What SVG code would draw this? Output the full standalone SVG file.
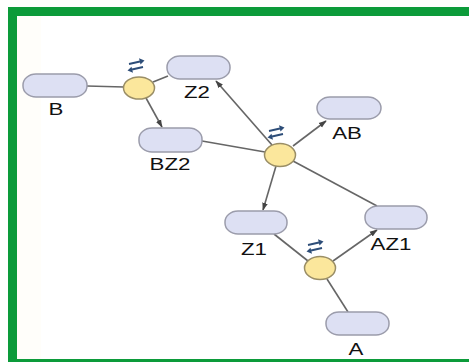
<svg xmlns="http://www.w3.org/2000/svg" width="469" height="362" viewBox="0 0 469 362">
  <style>
    .sp { fill: #dde0f3; stroke: #9b9cab; stroke-width: 1.5; }
    .rx { fill: #fbe79c; stroke: #9a8e66; stroke-width: 1.5; }
    .ln { stroke: #666666; stroke-width: 1.6; fill: none; }
    .arr { marker-end: url(#head); }
    .lbl { font-family: "Liberation Sans", Arial, sans-serif; font-size: 16.5px; fill: #111; text-anchor: middle; }
    .frame { fill: #0c9b3a; }
  </style>
  <defs>
    <marker id="head" viewBox="0 0 10 10" refX="9" refY="5" markerWidth="8" markerHeight="8" markerUnits="userSpaceOnUse" orient="auto">
      <path d="M0,1.5 L10,5 L0,8.5 Z" fill="#444444"/>
    </marker>
    <!-- reversible-reaction glyph: two opposed arrows -->
    <g id="swap" fill="#2d4d78" stroke="#2d4d78">
      <path d="M1,7 L12,4.5" stroke-width="1.9" fill="none"/>
      <path d="M16.5,3.5 L11,1.2 L12.5,7.5 Z" stroke="none"/>
      <path d="M15,10 L4,12.5" stroke-width="1.9" fill="none"/>
      <path d="M-0.5,13.5 L5,15.8 L3.5,9.8 Z" stroke="none"/>
    </g>
  </defs>

  <rect width="469" height="362" fill="#ffffff"/>
  <rect x="17" y="16" width="24" height="343" fill="#fffefa"/>

  <!-- frame -->
  <rect class="frame" x="8" y="7" width="461" height="9"/>
  <rect class="frame" x="8" y="7" width="9" height="355"/>
  <rect class="frame" x="8" y="359" width="461" height="3"/>

  <g id="connectors">
    <path class="ln" d="M87,86 L124,87"/>
    <path class="ln" d="M153,82 L168,76"/>
    <path class="ln arr" d="M146,98 L162,127"/>
    <path class="ln" d="M202,141 L265,152"/>
    <path class="ln arr" d="M272,145 L216,81"/>
    <path class="ln arr" d="M293,146 L326,121"/>
    <path class="ln arr" d="M276,166 L263,210"/>
    <path class="ln" d="M293,161 L377,206"/>
    <path class="ln" d="M274,234 L308,261"/>
    <path class="ln arr" d="M333,261 L377,230"/>
    <path class="ln" d="M327,279 L348,312"/>
  </g>

  <g id="B">
    <rect class="sp" x="23" y="74" width="64" height="23" rx="13" ry="11"/>
    <text class="lbl" transform="translate(56,115) scale(1.35,1)">B</text>
  </g>
  <g id="Z2">
    <rect class="sp" x="167" y="56" width="63" height="23" rx="13" ry="11"/>
    <text class="lbl" transform="translate(197,98) scale(1.35,1)">Z2</text>
  </g>
  <g id="BZ2">
    <rect class="sp" x="139" y="128" width="63" height="24" rx="13" ry="11"/>
    <text class="lbl" transform="translate(170,170) scale(1.35,1)">BZ2</text>
  </g>
  <g id="AB">
    <rect class="sp" x="317" y="97" width="64" height="22" rx="13" ry="11"/>
    <text class="lbl" transform="translate(347,139) scale(1.35,1)">AB</text>
  </g>
  <g id="Z1">
    <rect class="sp" x="225" y="211" width="62" height="23" rx="13" ry="11"/>
    <text class="lbl" transform="translate(254,255) scale(1.35,1)">Z1</text>
  </g>
  <g id="AZ1">
    <rect class="sp" x="365" y="206" width="62" height="23" rx="13" ry="11"/>
    <text class="lbl" transform="translate(391,250) scale(1.35,1)">AZ1</text>
  </g>
  <g id="A">
    <rect class="sp" x="326" y="312" width="63" height="23" rx="13" ry="11"/>
    <text class="lbl" transform="translate(356,355) scale(1.35,1)">A</text>
  </g>

  <g id="R1">
    <ellipse class="rx" cx="139" cy="88" rx="15.5" ry="11"/>
    <use href="#swap" transform="translate(128,57)"/>
  </g>
  <g id="R2">
    <ellipse class="rx" cx="280" cy="155" rx="15.5" ry="11.5"/>
    <use href="#swap" transform="translate(268,124)"/>
  </g>
  <g id="R3">
    <ellipse class="rx" cx="320" cy="268" rx="15.5" ry="11.5"/>
    <use href="#swap" transform="translate(307,238)"/>
  </g>
</svg>
